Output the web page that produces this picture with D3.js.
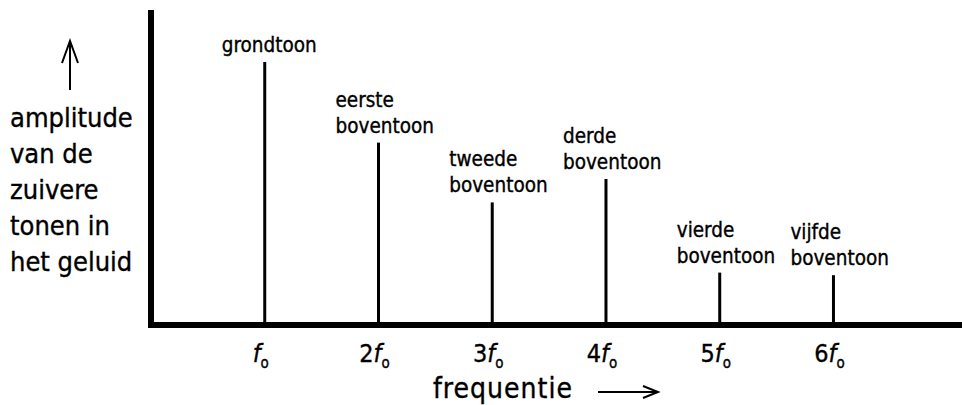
<!DOCTYPE html>
<html>
<head>
<meta charset="utf-8">
<script src="https://cdn.jsdelivr.net/npm/d3@7"></script>
<style>
  body { margin: 0; background: #fff; }
  svg text { font-family: "DejaVu Sans Condensed", "DejaVu Sans", sans-serif; font-stretch: condensed; fill: #000; stroke: #000; stroke-width: 0.35px; }
</style>
</head>
<body>
<div id="chart"></div>
<script>
const harmonics = [1, 2, 3, 4, 5, 6];
const amplitudes = [100, 69, 46, 55, 19, 18];
const toneNames = [
  ["grondtoon"],
  ["eerste", "boventoon"],
  ["tweede", "boventoon"],
  ["derde", "boventoon"],
  ["vierde", "boventoon"],
  ["vijfde", "boventoon"]
];
const tickPrefixes = ["", "2", "3", "4", "5", "6"];
const yLabelLines = ["amplitude", "van de", "zuivere", "tonen in", "het geluid"];
const xLabel = "frequentie";

const width = 962, height = 405;

const svg = d3.select("#chart").append("svg")
  .attr("width", width)
  .attr("height", height);

const x = d3.scaleLinear().domain([0, 7.13]).range([151, 962]);
const y = d3.scaleLinear().domain([0, 100]).range([322, 62]);

/* ─── axes (thick L shape) ─── */
svg.append("line")
  .attr("x1", x(0)).attr("x2", x(0))
  .attr("y1", y(0) + 6).attr("y2", y(120))
  .attr("stroke", "#000").attr("stroke-width", 6);

svg.append("line")
  .attr("x1", x(0) - 3).attr("x2", width)
  .attr("y1", y(0) + 3).attr("y2", y(0) + 3)
  .attr("stroke", "#000").attr("stroke-width", 6);

/* ─── spectral lines ─── */
const data = harmonics.map((h, i) => ({ h, a: amplitudes[i], name: toneNames[i], prefix: tickPrefixes[i] }));

svg.selectAll(".bar")
  .data(data)
  .enter()
  .append("line")
  .attr("class", "bar")
  .attr("x1", d => x(d.h)).attr("x2", d => x(d.h))
  .attr("y1", y(0)).attr("y2", d => y(d.a))
  .attr("stroke", "#000").attr("stroke-width", 3);

/* ─── tone names above lines ─── */
svg.selectAll(".tone")
  .data(data)
  .enter()
  .append("text")
  .attr("class", "tone")
  .attr("font-size", 20.5)
  .each(function (d) {
    const t = d3.select(this);
    const n = d.name.length;
    d.name.forEach((line, j) => {
      t.append("tspan")
        .attr("x", x(d.h) - 43)
        .attr("y", y(d.a) - 10 - (n - 1 - j) * 26)
        .text(line);
    });
  });

/* ─── tick labels n·f_o ─── */
svg.selectAll(".tick")
  .data(data)
  .enter()
  .append("text")
  .attr("class", "tick")
  .attr("x", d => x(d.h) - 4)
  .attr("y", 362)
  .attr("text-anchor", "middle")
  .attr("font-size", 25)
  .each(function (d) {
    const t = d3.select(this);
    t.append("tspan").text(d.prefix);
    t.append("tspan").attr("font-style", "italic").text("f");
    t.append("tspan").attr("font-size", 15).attr("dy", 6).text("o");
  });

/* ─── y label + arrow ─── */
svg.append("text")
  .attr("font-size", 27)
  .selectAll("tspan")
  .data(yLabelLines)
  .enter()
  .append("tspan")
  .attr("x", 10)
  .attr("y", (d, i) => 127 + i * 36)
  .text(d => d);

svg.append("path")
  .attr("d", "M70,90 L70,42 M62,63 L70,41 L78,63")
  .attr("fill", "none").attr("stroke", "#000").attr("stroke-width", 2);

/* ─── x label + arrow ─── */
svg.append("text")
  .attr("x", 433).attr("y", 398)
  .attr("font-size", 28)
  .attr("letter-spacing", 1)
  .text(xLabel);

svg.append("path")
  .attr("d", "M598,392 L657,392 M643,386 L658,392 L643,398")
  .attr("fill", "none").attr("stroke", "#000").attr("stroke-width", 2);
</script>
</body>
</html>
